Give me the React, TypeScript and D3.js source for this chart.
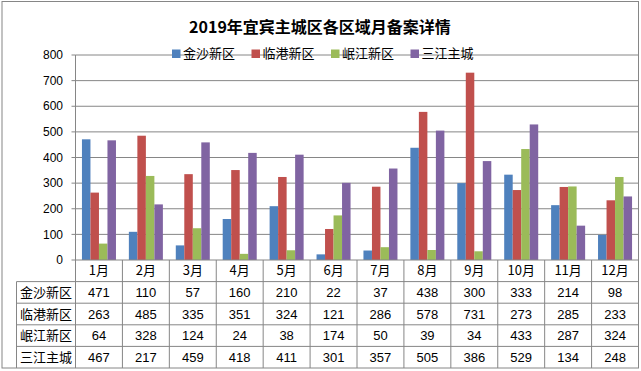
import React from "react";
import * as d3 from "d3";

const months = ["1月", "2月", "3月", "4月", "5月", "6月", "7月", "8月", "9月", "10月", "11月", "12月"];
const seriesNames = ["金沙新区", "临港新区", "岷江新区", "三江主城"];
const jinsha = [471, 110, 57, 160, 210, 22, 37, 438, 300, 333, 214, 98];
const lingang = [263, 485, 335, 351, 324, 121, 286, 578, 731, 273, 285, 233];
const minjiang = [64, 328, 124, 24, 38, 174, 50, 39, 34, 433, 287, 324];
const sanjiang = [467, 217, 459, 418, 411, 301, 357, 505, 386, 529, 134, 248];
const yTicks = [0, 100, 200, 300, 400, 500, 600, 700, 800];
const title = "2019年宜宾主城区各区域月备案详情";

const colors = ["#4F81BD", "#C0504D", "#9BBB59", "#8064A2"];
const seriesValues = [jinsha, lingang, minjiang, sanjiang];

const W = 641;
const H = 371;
const plotL = 75.5;
const plotR = 638.5;
const plotT = 55;
const plotB = 260;
const tableL = 16.5;
const rowH = 21.6;
const gray = "#868686";
const cjk = "'Noto Sans CJK SC', 'Liberation Sans', sans-serif";
const num = "'Liberation Sans', Arial, sans-serif";

export default function App() {
  const x = d3.scaleBand<string>().domain(months).range([plotL, plotR]).paddingInner(0).paddingOuter(0);
  const bw = x.bandwidth();
  const groupW = bw * 0.725;
  const x1 = d3
    .scaleBand<string>()
    .domain(seriesNames)
    .range([(bw - groupW) / 2, (bw + groupW) / 2])
    .padding(0);
  const y = d3.scaleLinear().domain([0, 800]).range([plotB, plotT]);

  const legendX = [172, 251.5, 331, 410.5];
  const tableBottom = plotB + rowH * 5;

  return (
    <svg width={W} height={H} style={{ position: "absolute", left: 0, top: 0, background: "#fff" }}>
      <rect x={0} y={0} width={W} height={H} fill="#fff" />
      {/* outer border */}
      <rect x={2} y={1.5} width={plotR - 2} height={tableBottom - 1.5} fill="none" stroke={gray} strokeWidth={1} />
      {/* title */}
      <text x={320} y={33} textAnchor="middle" fontFamily={cjk} fontSize={16} fontWeight="bold" fill="#000">
        {title}
      </text>
      {/* gridlines */}
      {yTicks.map((t) => (
        <g key={t}>
          {t > 0 && <line x1={plotL} x2={plotR} y1={y(t)} y2={y(t)} stroke={gray} strokeWidth={1} />}
          <line x1={plotL - 4} x2={plotL} y1={y(t)} y2={y(t)} stroke={gray} strokeWidth={1} />
          <text x={63} y={y(t)} dy="0.35em" textAnchor="end" fontFamily={num} fontSize={12} fill="#000">
            {t}
          </text>
        </g>
      ))}
      {/* bars */}
      {seriesValues.map((vals, si) => (
        <g key={si}>
          {vals.map((v, i) => (
            <rect
              key={i}
              x={(x(months[i]) as number) + (x1(seriesNames[si]) as number)}
              y={y(v)}
              width={x1.bandwidth()}
              height={y(0) - y(v)}
              fill={colors[si]}
            />
          ))}
        </g>
      ))}
      {/* legend */}
      {seriesNames.map((n, i) => (
        <g key={n}>
          <rect x={legendX[i]} y={49.5} width={8.5} height={8.5} fill={colors[i]} />
          <text x={legendX[i] + 11} y={58} fontFamily={cjk} fontSize={13} fill="#000">
            {n}
          </text>
        </g>
      ))}
      {/* axis */}
      <line x1={plotL} x2={plotL} y1={plotT} y2={tableBottom} stroke={gray} strokeWidth={1} />
      <line x1={plotL} x2={plotR} y1={plotB} y2={plotB} stroke={gray} strokeWidth={1} />
      {/* table horizontal lines */}
      {[1, 2, 3, 4].map((r) => (
        <line key={r} x1={tableL} x2={plotR} y1={plotB + rowH * r} y2={plotB + rowH * r} stroke={gray} strokeWidth={1} />
      ))}
      <line x1={tableL} x2={tableL} y1={plotB + rowH} y2={tableBottom} stroke={gray} strokeWidth={1} />
      {months.map((m) => (
        <line
          key={m}
          x1={(x(m) as number) + bw}
          x2={(x(m) as number) + bw}
          y1={plotB}
          y2={tableBottom}
          stroke={gray}
          strokeWidth={1}
        />
      ))}
      {/* month labels */}
      {months.map((m) => (
        <text
          key={m}
          x={(x(m) as number) + bw / 2}
          y={plotB + rowH / 2}
          dy="0.35em"
          textAnchor="middle"
          fontFamily={cjk}
          fontSize={13}
          fill="#000"
        >
          {m}
        </text>
      ))}
      {/* row headers and values */}
      {seriesNames.map((n, si) => (
        <g key={n}>
          <text
            x={(tableL + plotL) / 2}
            y={plotB + rowH * (si + 1.5)}
            dy="0.35em"
            textAnchor="middle"
            fontFamily={cjk}
            fontSize={13}
            fill="#000"
          >
            {n}
          </text>
          {seriesValues[si].map((v, i) => (
            <text
              key={i}
              x={(x(months[i]) as number) + bw / 2}
              y={plotB + rowH * (si + 1.5)}
              dy="0.35em"
              textAnchor="middle"
              fontFamily={num}
              fontSize={13}
              fill="#000"
            >
              {v}
            </text>
          ))}
        </g>
      ))}
    </svg>
  );
}
